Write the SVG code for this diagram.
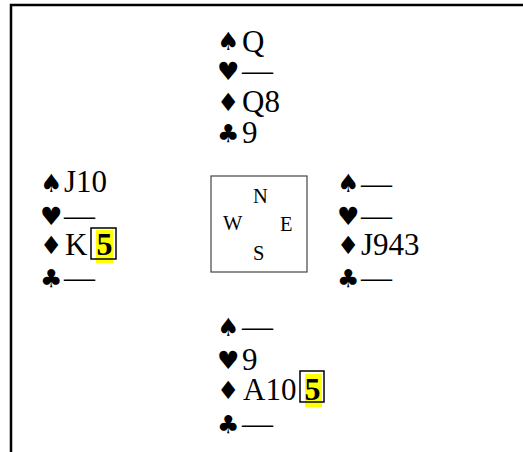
<svg xmlns="http://www.w3.org/2000/svg" width="523" height="452" viewBox="0 0 523 452">
<style>
.t{font-family:"Liberation Serif","Times New Roman",serif;font-size:31px;fill:#000}
.s{font-family:"DejaVu Sans",sans-serif;font-size:25px;fill:#000}
.c{font-family:"Liberation Serif","Times New Roman",serif;font-size:20.5px;fill:#000}
.b{font-family:"Liberation Serif","Times New Roman",serif;font-size:32px;font-weight:bold;fill:#000}
.hl{fill:#ffff00}
.bx{fill:none;stroke:#000;stroke-width:1.5}
</style>
<rect width="523" height="452" fill="#fff"/>
<path d="M11,452 V5 H523" fill="none" stroke="#000" stroke-width="2.5"/>
<g id="north">
<text class="s" x="217" y="50">♠</text><text class="t" x="242" y="52">Q</text>
<text class="s" x="217" y="80">♥</text><text class="t" x="242" y="80.5">—</text>
<text class="s" x="217" y="111">♦</text><text class="t" x="242" y="112">Q8</text>
<text class="s" x="217" y="142">♣</text><text class="t" x="242" y="143">9</text>
</g>
<g id="west">
<text class="s" x="40" y="192">♠</text><text class="t" x="64" y="192">J10</text>
<text class="s" x="40" y="225">♥</text><text class="t" x="64" y="225.5">—</text>
<text class="s" x="40" y="254">♦</text><text class="t" x="65" y="255">K</text>
<rect class="hl" x="96" y="230" width="17" height="33"/>
<rect class="bx" x="91" y="228" width="25" height="31"/>
<text class="b" x="96.5" y="255">5</text>
<text class="s" x="40" y="287">♣</text><text class="t" x="64" y="287.5">—</text>
</g>
<g id="compass">
<rect x="211" y="176" width="96" height="96" fill="none" stroke="#444" stroke-width="1.2"/>
<text class="c" x="253" y="203">N</text>
<text class="c" x="223" y="230">W</text>
<text class="c" x="280" y="231">E</text>
<text class="c" x="253" y="260">S</text>
</g>
<g id="east">
<text class="s" x="337" y="192">♠</text><text class="t" x="361" y="193.5">—</text>
<text class="s" x="337" y="225">♥</text><text class="t" x="361" y="225.5">—</text>
<text class="s" x="337" y="254">♦</text><text class="t" x="361" y="255">J943</text>
<text class="s" x="337" y="287">♣</text><text class="t" x="361" y="287.5">—</text>
</g>
<g id="south">
<text class="s" x="217" y="336">♠</text><text class="t" x="242" y="336.5">—</text>
<text class="s" x="217" y="369">♥</text><text class="t" x="242" y="370">9</text>
<text class="s" x="217" y="399">♦</text><text class="t" x="243" y="400">A10</text>
<rect class="hl" x="305" y="374" width="17" height="33"/>
<rect class="bx" x="300" y="371" width="24" height="31"/>
<text class="b" x="304.5" y="400">5</text>
<text class="s" x="217" y="433">♣</text><text class="t" x="242" y="433.5">—</text>
</g>
</svg>
